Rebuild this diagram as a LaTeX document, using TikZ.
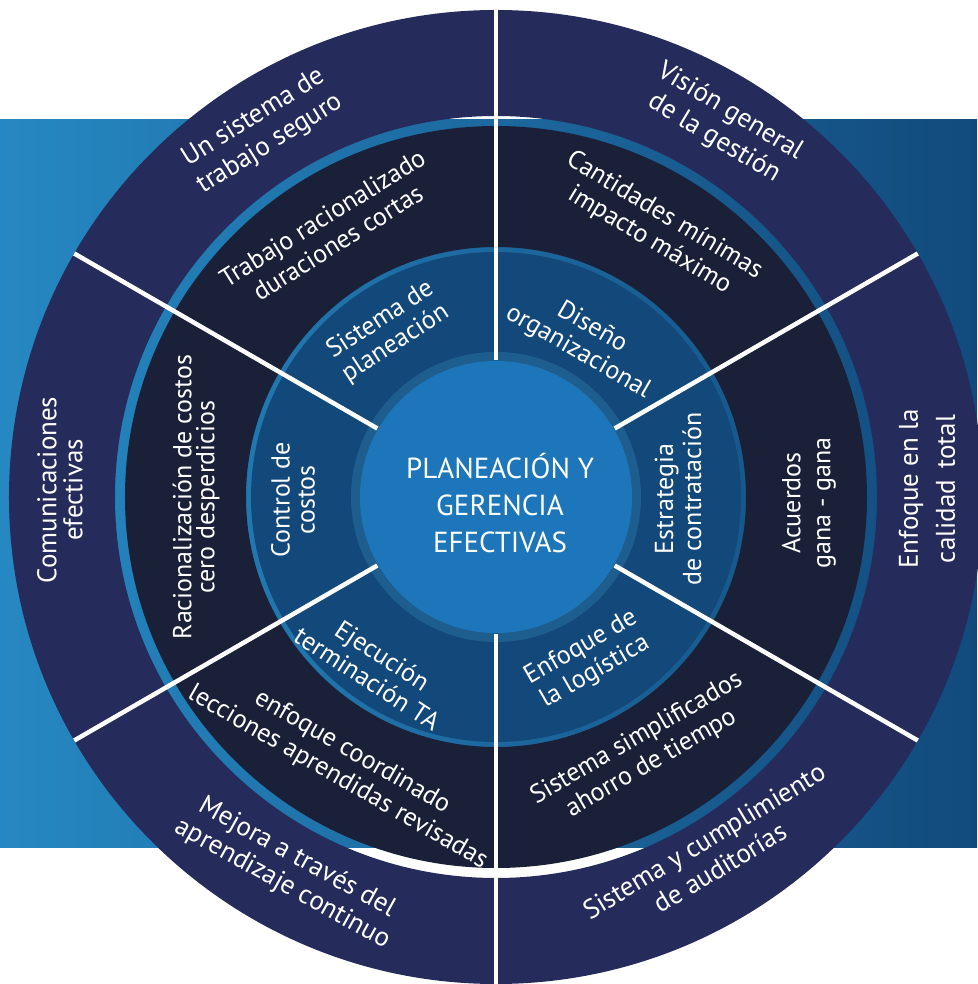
\documentclass[tikz,border=0pt]{standalone}
\usepackage{fontspec}
\setmainfont{PT Sans}
\definecolor{outerc}{RGB}{37,43,91}
\definecolor{midc}{RGB}{27,32,57}
\definecolor{innerc}{RGB}{18,72,122}
\definecolor{cborder}{RGB}{30,94,143}
\definecolor{cfill}{RGB}{28,118,185}
\definecolor{bgl}{RGB}{38,136,194}
\definecolor{bgr}{RGB}{18,74,124}
\tikzset{
  lbl/.style={text=white, align=center, inner sep=0pt},
  fo/.style={font=\fontsize{27}{31}\selectfont},
  fm/.style={font=\fontsize{26}{29}\selectfont},
  fi/.style={font=\fontsize{26}{28}\selectfont},
  sepline/.style={draw=white, line width=4.5pt},
}
\begin{document}
\begin{tikzpicture}[x=1pt,y=1pt]
\useasboundingbox (-496,-487) rectangle (481,497);
% background band
\shade[left color=bgl, right color=bgr] (-496,-350) rectangle (481,377);
% rings
\fill[outerc, even odd rule] (0,0) circle[radius=487pt] (0,0) circle[radius=381pt];
\fill[midc, even odd rule] (0,0) circle[radius=371pt] (0,0) circle[radius=250pt];
\fill[innerc] (0,0) circle[radius=245pt];
\fill[cborder] (0,0) circle[radius=145pt];
\fill[cfill] (0,0) circle[radius=136pt];
% separators
\foreach \a in {90,30,-30,-90,-150,150}
  \draw[sepline] (\a:137) -- (\a:487);
% center
\node[lbl, font=\fontsize{29}{37}\selectfont] (center) at (4,-6) {PLANEACIÓN Y\\GERENCIA\\EFECTIVAS};
% outer ring
\node[lbl, rotate=90, font=\fontsize{27}{26}\selectfont] (o1) at (-436,7) {Comunicaciones\\efectivas};
\node[lbl, fo, rotate=32] (o2) at (-234,366) {Un sistema de\\trabajo seguro};
\node[lbl, fo, rotate=-31] (o3) at (226,372) {Visión general\\de la gestión};
\node[lbl, rotate=90, font=\fontsize{27}{37}\selectfont] (o4) at (431,8) {Enfoque en la\\calidad\hspace{4pt} total};
\node[lbl, fo, rotate=31] (o5) at (216,-357) {Sistema y cumplimiento\\de auditorías};
\node[lbl, rotate=-29, font=\fontsize{27}{30}\selectfont] (o6) at (-206,-374) {Mejora a través del\\aprendizaje continuo};
% middle ring
\node[lbl, rotate=90, font=\fontsize{26}{23}\selectfont] (m1) at (-300,0) {Racionalización de costos\\cero desperdicios};
\node[lbl, fm, rotate=32] (m2) at (-166,267) {Trabajo racionalizado\\duraciones cortas};
\node[lbl, fm, rotate=-31] (m3) at (161,269) {Cantidades mínimas\\impacto máximo};
\node[lbl, rotate=90, font=\fontsize{26}{30}\selectfont] (m4) at (313,-6) {Acuerdos\\gana - gana};
\node[lbl, fm, rotate=30] (m5) at (148,-254) {Sistema simplificados\\ahorro de tiempo};
\node[lbl, fm, rotate=-30] (m6) at (-151,-268) {enfoque coordinado\\lecciones aprendidas revisadas};
% inner ring
\node[lbl, rotate=90, font=\fontsize{26}{25}\selectfont] (i1) at (-203,-3) {Control de\\costos};
\node[lbl, fi, rotate=33] (i2) at (-108,165) {Sistema de\\planeación};
\node[lbl, fi, rotate=-30] (i3) at (89,157) {Diseño\\organizacional};
\node[lbl, rotate=90, font=\fontsize{26}{28}\selectfont] (i4) at (182,-2) {Estrategia\\de contratación};
\node[lbl, fi, rotate=30] (i5) at (92,-163) {Enfoque de\\la logística};
\node[lbl, fi, rotate=-33] (i6) at (-121,-170) {Ejecución\\terminación TA};
\end{tikzpicture}
\end{document}
